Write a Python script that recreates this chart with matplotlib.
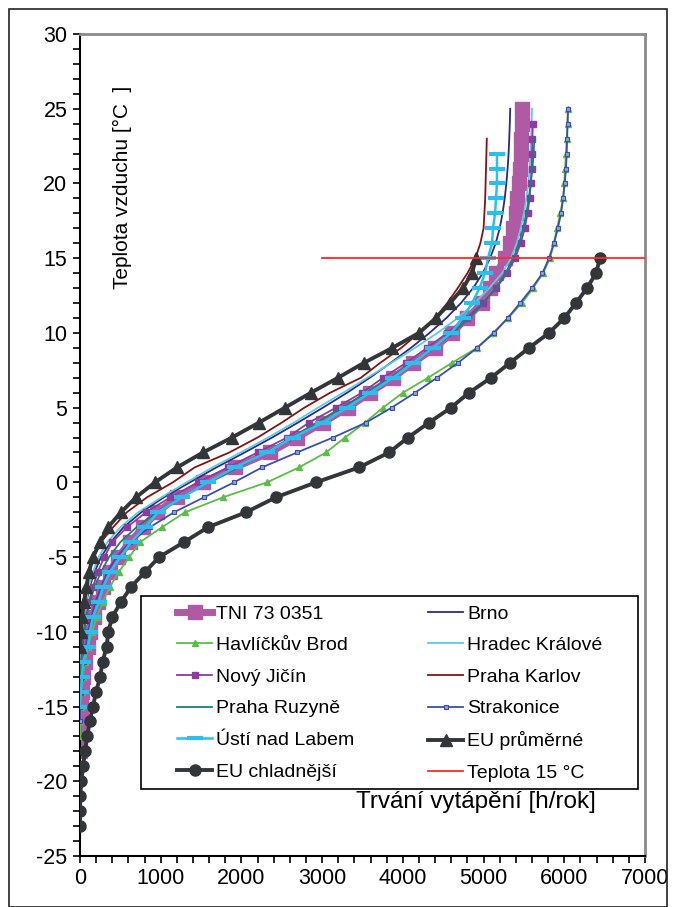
import matplotlib
matplotlib.use("Agg")
import matplotlib.pyplot as plt
from matplotlib.ticker import MultipleLocator
from matplotlib.patches import Rectangle

plt.rcParams['font.family'] = ['Liberation Sans', 'DejaVu Sans']
plt.rcParams['axes.unicode_minus'] = False

# ---------------- data (temperature [°C] vs. heating duration [h/rok]) ----------------
tni_t = [-18, -17, -16, -15, -14, -13, -12, -11, -10, -9, -8, -7, -6, -5, -4, -3, -2, -1, 0, 1, 2, 3, 4, 5, 6, 7, 8, 9, 10, 11, 12, 13, 14, 15, 16, 17, 18, 19, 20, 21, 22, 23, 24, 25]
tni_h = [0, 5, 10, 15, 25, 40, 60, 95, 130, 170, 220, 290, 370, 470, 620, 781, 954, 1202, 1524, 1920, 2354, 2689, 3011, 3321, 3593, 3878, 4126, 4398, 4609, 4795, 4981, 5080, 5160, 5266, 5328, 5365, 5402, 5414, 5439, 5452, 5464, 5464, 5476, 5476]

brno_t = [-13, -12, -11, -10, -9, -8, -7, -6, -5, -4, -3, -2, -1, 0, 1, 2, 3, 4, 5, 6, 7, 8, 9, 10, 11, 12, 13, 14, 15, 16, 17, 18, 19, 20, 21, 22, 23, 24, 25]
brno_h = [0, 5, 15, 30, 50, 80, 120, 180, 260, 380, 540, 760, 1040, 1360, 1690, 2040, 2380, 2700, 3010, 3310, 3590, 3850, 4100, 4330, 4540, 4720, 4870, 4990, 5080, 5150, 5200, 5235, 5262, 5282, 5298, 5310, 5318, 5325, 5330]

havl_t = [-17, -16, -15, -14, -13, -12, -11, -10, -9, -8, -7, -6, -5, -4, -3, -2, -1, 0, 1, 2, 3, 4, 5, 6, 7, 8, 9, 10, 11, 12, 13, 14, 15, 16, 17, 18, 19, 20, 21, 22, 23, 24, 25]
havl_h = [0, 5, 10, 20, 35, 60, 100, 150, 210, 280, 370, 480, 610, 743, 1016, 1301, 1772, 2317, 2713, 3048, 3283, 3531, 3754, 4002, 4312, 4609, 4919, 5117, 5303, 5476, 5613, 5737, 5824, 5870, 5910, 5950, 5985, 6000, 6010, 6020, 6030, 6040, 6046]

hradec_t = [-13, -12, -11, -10, -9, -8, -7, -6, -5, -4, -3, -2, -1, 0, 1, 2, 3, 4, 5, 6, 7, 8, 9, 10, 11, 12, 13, 14, 15, 16, 17, 18, 19, 20, 21, 22, 23, 24, 25]
hradec_h = [0, 5, 15, 30, 50, 75, 110, 160, 230, 340, 500, 720, 1010, 1320, 1640, 1990, 2330, 2650, 2950, 3260, 3560, 3860, 4150, 4430, 4680, 4890, 5070, 5230, 5340, 5410, 5460, 5500, 5530, 5555, 5570, 5580, 5590, 5595, 5600]

novy_t = [-14, -13, -12, -11, -10, -9, -8, -7, -6, -5, -4, -3, -2, -1, 0, 1, 2, 3, 4, 5, 6, 7, 8, 9, 10, 11, 12, 13, 14, 15, 16, 17, 18, 19, 20, 21, 22, 23, 24]
novy_h = [0, 5, 15, 30, 50, 75, 110, 160, 220, 300, 400, 582, 818, 1120, 1462, 1830, 2200, 2565, 2837, 3172, 3494, 3754, 4040, 4300, 4550, 4790, 4990, 5160, 5290, 5390, 5460, 5510, 5545, 5570, 5585, 5595, 5600, 5605, 5610]

karlov_t = [-11, -10, -9, -8, -7, -6, -5, -4, -3, -2, -1, 0, 1, 2, 3, 4, 5, 6, 7, 8, 9, 10, 11, 12, 13, 14, 15, 16, 17, 18, 19, 20, 21, 22, 23]
karlov_h = [0, 8, 20, 40, 70, 110, 170, 260, 410, 580, 830, 1150, 1420, 1850, 2200, 2500, 2780, 3100, 3480, 3720, 3980, 4200, 4400, 4550, 4680, 4800, 4900, 4960, 5000, 5010, 5020, 5025, 5030, 5035, 5040]

ruzyne_t = [-14, -13, -12, -11, -10, -9, -8, -7, -6, -5, -4, -3, -2, -1, 0, 1, 2, 3, 4, 5, 6, 7, 8, 9, 10, 11, 12, 13, 14, 15, 16, 17, 18, 19, 20, 21, 22, 23]
ruzyne_h = [0, 5, 15, 30, 50, 80, 120, 180, 260, 360, 500, 700, 950, 1250, 1600, 1960, 2300, 2620, 2930, 3240, 3550, 3840, 4110, 4380, 4620, 4820, 5000, 5150, 5270, 5370, 5440, 5490, 5530, 5560, 5585, 5605, 5620, 5630]

strak_t = [-16, -15, -14, -13, -12, -11, -10, -9, -8, -7, -6, -5, -4, -3, -2, -1, 0, 1, 2, 3, 4, 5, 6, 7, 8, 9, 10, 11, 12, 13, 14, 15, 16, 17, 18, 19, 20, 21, 22, 23, 24, 25]
strak_h = [0, 5, 12, 25, 45, 70, 100, 140, 190, 260, 340, 450, 620, 867, 1165, 1536, 1908, 2255, 2689, 3135, 3544, 3860, 4151, 4423, 4683, 4920, 5129, 5300, 5452, 5600, 5730, 5810, 5873, 5920, 5960, 5985, 6005, 6021, 6030, 6035, 6040, 6046]

usti_t = [-15, -14, -13, -12, -11, -10, -9, -8, -7, -6, -5, -4, -3, -2, -1, 0, 1, 2, 3, 4, 5, 6, 7, 8, 9, 10, 11, 12, 13, 14, 15, 16, 17, 18, 19, 20, 21, 22]
usti_h = [0, 12, 25, 40, 99, 124, 161, 235, 285, 372, 500, 632, 805, 966, 1264, 1586, 1920, 2317, 2639, 3011, 3308, 3593, 3878, 4126, 4374, 4597, 4745, 4857, 4950, 5018, 5055, 5104, 5117, 5142, 5154, 5166, 5166, 5166]

euavg_t = [-11, -10, -9, -8, -7, -6, -5, -4, -3, -2, -1, 0, 1, 2, 3, 4, 5, 6, 7, 8, 9, 10, 11, 12, 13, 14, 15]
euavg_h = [0, 10, 25, 50, 80, 110, 161, 248, 347, 508, 694, 929, 1202, 1524, 1883, 2218, 2540, 2862, 3197, 3519, 3870, 4200, 4411, 4584, 4745, 4857, 4906]

eucold_t = [-23, -22, -21, -20, -19, -18, -17, -16, -15, -14, -13, -12, -11, -10, -9, -8, -7, -6, -5, -4, -3, -2, -1, 0, 1, 2, 3, 4, 5, 6, 7, 8, 9, 10, 11, 12, 13, 14, 15]
eucold_h = [0, 0, 3, 15, 40, 60, 90, 120, 160, 200, 250, 280, 330, 350, 400, 508, 632, 805, 980, 1289, 1586, 2057, 2428, 2924, 3457, 3829, 4064, 4324, 4597, 4820, 5092, 5328, 5563, 5811, 6000, 6145, 6282, 6393, 6443]

line15_h = [3000, 7000]
line15_t = [15, 15]

labels = ["TNI 73 0351", "Brno", "Havlíčkův Brod", "Hradec Králové", "Nový Jičín",
          "Praha Karlov", "Praha Ruzyně", "Strakonice", "Ústí nad Labem",
          "EU průměrné", "EU chladnější", "Teplota 15 °C"]

x_ticks = [0, 1000, 2000, 3000, 4000, 5000, 6000, 7000]
y_ticks = [-25, -20, -15, -10, -5, 0, 5, 10, 15, 20, 25, 30]

# ---------------- figure ----------------
W, H = 673, 907
fig = plt.figure(figsize=(W / 100, H / 100), dpi=100)
ax = fig.add_axes([80 / W, 1 - 856 / H, 565 / W, 822 / H])

dark = '#333638'
ax.plot(tni_h, tni_t, color='#b05aa5', lw=5, marker='s', ms=10, mec='#b05aa5', mfc='#b05aa5', label=labels[0], zorder=2)
ax.plot(brno_h, brno_t, color='#2e2a7e', lw=1.3, label=labels[1], zorder=3)
ax.plot(havl_h, havl_t, color='#5dbb48', lw=1.3, marker='^', ms=4.5, label=labels[2], zorder=3)
ax.plot(hradec_h, hradec_t, color='#5fcbe2', lw=1.3, label=labels[3], zorder=3)
ax.plot(novy_h, novy_t, color='#8e3b9e', lw=1.3, marker='s', ms=4, label=labels[4], zorder=3)
ax.plot(karlov_h, karlov_t, color='#7e1517', lw=1.3, label=labels[5], zorder=3)
ax.plot(ruzyne_h, ruzyne_t, color='#178078', lw=1.3, label=labels[6], zorder=3)
ax.plot(strak_h, strak_t, color='#3b4fa8', lw=1.3, marker='s', ms=3.5, mfc='#8fa0dd', mec='#3b4fa8', mew=0.8, label=labels[7], zorder=3)
ax.plot(usti_h, usti_t, color='#2cbfee', lw=1.8, marker='_', ms=11, mew=3, label=labels[8], zorder=3)
ax.plot(euavg_h, euavg_t, color=dark, lw=2.8, marker='^', ms=8, label=labels[9], zorder=4)
ax.plot(eucold_h, eucold_t, color=dark, lw=2.8, marker='o', ms=8, label=labels[10], zorder=4)
ax.plot(line15_h, line15_t, color='#ff2a2a', lw=1.3, label=labels[11], zorder=5)

ax.set_xlim(0, 7000)
ax.set_ylim(-25, 30)
ax.set_xticks(x_ticks)
ax.set_yticks(y_ticks)
ax.xaxis.set_minor_locator(MultipleLocator(200))
ax.yaxis.set_minor_locator(MultipleLocator(1))
ax.tick_params(which='both', direction='out', length=5, width=1.2, color='black')
ax.tick_params(axis='both', labelsize=15.5, pad=4)

for s in ['top', 'right']:
    ax.spines[s].set_color('#8a8a8a')
    ax.spines[s].set_linewidth(2)
for s in ['left', 'bottom']:
    ax.spines[s].set_color('black')
    ax.spines[s].set_linewidth(1.5)

# axis titles inside the plot area
ax.text((122 - 80) / 565, (856 - 187) / 822, "Teplota vzduchu [°C  ]", transform=ax.transAxes,
        rotation=90, ha='center', va='center', fontsize=15)
ax.text((476 - 80) / 565, (856 - 802) / 822, "Trvání vytápění [h/rok]", transform=ax.transAxes,
        ha='center', va='center', fontsize=17.5)

# legend with a plain rectangular frame, filled row by row
ax.add_patch(Rectangle(((141 - 80) / 565, (856 - 789) / 822), (638 - 141) / 565, (789 - 596) / 822,
                       transform=ax.transAxes, fill=True, facecolor='white', edgecolor='black', lw=1.2, zorder=6))
handles, labs = ax.get_legend_handles_labels()
order = [0, 2, 4, 6, 8, 10, 1, 3, 5, 7, 9, 11]
leg = ax.legend([handles[i] for i in order], [labs[i] for i in order],
                loc='upper left', bbox_to_anchor=((177 - 80) / 565, (856 - 605) / 822), ncol=2,
                frameon=False, fontsize=14, borderpad=0, borderaxespad=0, handlelength=1.8,
                handletextpad=0.2, labelspacing=0.72, columnspacing=3.8)
leg.set_zorder(7)

# outer chart frame
fig.patches.append(Rectangle((9 / W, 0), (667 - 9) / W, 1 - 9 / H, transform=fig.transFigure,
                             fill=False, edgecolor='#222222', lw=1.2))

fig.savefig("out.png", dpi=100)
